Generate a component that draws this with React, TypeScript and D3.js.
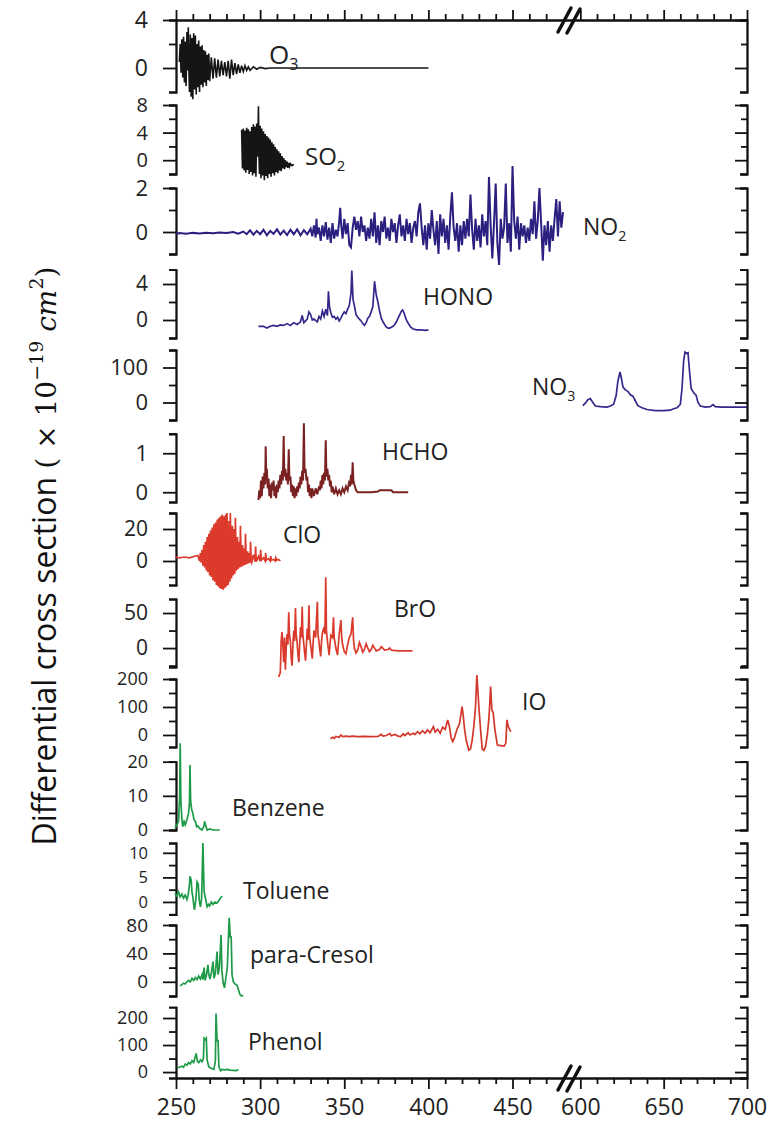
import React, { useEffect, useRef } from "react";
import * as d3 from "d3";

type Pt = [number, number];

// ---- data: [wavelength nm, differential cross section] ----
const labelMain = ["O", "SO", "NO", "HONO", "NO", "HCHO", "ClO", "BrO", "IO", "Benzene", "Toluene", "para-Cresol", "Phenol"];
const labelSub = ["3", "2", "2", "", "3", "", "", "", "", "", "", "", ""];

const o3: Pt[] = [
  [252, 0.5], [252.5, 2.0], [253, -0.4], [253.5, 2.4], [254, -0.8], [254.5, 2.6], [255, -1.2], [255.5, 2.2], [256, -1.5],
  [256.5, 3.0], [257, -0.2], [257.3, 3.4], [257.6, 0.3], [258, -2.0], [258.5, 2.8], [259, -2.4], [259.5, 2.5], [260, -2.6],
  [260.5, 2.9], [261, -1.8], [261.5, 2.7], [262, -2.2], [262.5, 2.0], [263, -1.6], [263.5, 2.3], [264, -2.0], [264.5, 1.8],
  [265, -1.4], [265.5, 1.9], [266, -1.6], [266.5, 1.5], [267, -1.2], [267.5, 1.4], [268, -1.5], [268.5, 1.1], [269, -1.0],
  [269.5, 1.2], [270, -1.1], [271, 0.9], [272, -0.9], [273, 0.8], [274, -0.8], [275, 0.7], [276, -0.7], [277, 0.6],
  [278, -0.6], [279, 0.5], [280, -0.7], [281, 0.6], [282, -0.9], [283, 0.7], [284, -0.6], [285, 0.4], [286, -0.5],
  [287, 0.3], [288, -0.4], [289, 0.2], [290, -0.3], [291, 0.2], [292, -0.2], [293, 0.1], [294, -0.2], [296, 0.1],
  [298, -0.1], [300, 0.05], [303, -0.05], [306, 0], [400, 0]
];

const so2: Pt[] = [
  [289, 4.4], [289.5, -1.2], [290, 4.6], [290.5, -1.5], [291, 4.3], [291.5, -1.8], [292, 4.7], [292.5, -1.4], [293, 4.5],
  [293.5, -2.0], [294, 4.2], [294.5, -1.7], [295, 4.8], [295.5, -2.2], [296, 5.2], [296.5, -1.9], [297, 4.9], [297.5, -2.4],
  [298, 5.3], [298.5, 0.5], [299, 7.8], [299.3, 0.8], [299.6, -2.0], [300, 5.0], [300.5, -2.6], [301, 4.6], [301.5, -2.2],
  [302, 4.2], [302.5, -2.9], [303, 3.8], [303.5, -2.3], [304, 3.5], [304.5, -2.6], [305, 3.3], [305.5, -2.0], [306, 3.0],
  [306.5, -2.4], [307, 2.6], [307.5, -1.9], [308, 2.3], [308.5, -2.2], [309, 1.9], [309.5, -1.7], [310, 1.6], [310.5, -1.9],
  [311, 1.3], [311.5, -1.5], [312, 1.0], [312.5, -1.6], [313, 0.6], [313.5, -1.2], [314, 0.3], [314.5, -1.3], [315, 0.0],
  [315.5, -1.0], [316, -0.2], [316.5, -1.1], [317, -0.4], [317.5, -0.9], [318, -0.5], [319, -0.8], [320, -0.6]
];

const no2: Pt[] = [
  [250, -0.1], [252, -0.05], [256, -0.08], [260, -0.04], [264, -0.07], [268, -0.03], [272, -0.06], [276, -0.02], [280, -0.05],
  [284, 0.0], [287, -0.08], [290, 0.02], [292, -0.1], [294, 0.08], [296, -0.12], [298, 0.05], [300, -0.1], [302, 0.1],
  [304, -0.15], [306, 0.05], [308, -0.08], [310, 0.12], [312, -0.12], [314, 0.06], [316, -0.14], [318, 0.1], [320, -0.1],
  [322, 0.12], [324, -0.15], [326, 0.08], [328, -0.1], [330, 0.15], [331, -0.2], [332, 0.3], [333, -0.25], [333.5, 0.6],
  [334, -0.1], [335, 0.2], [336, -0.4], [337, 0.3], [338, -0.2], [339, 0.45], [340, -0.35], [341, 0.2], [342, -0.5],
  [343, 0.4], [344, -0.3], [345, 0.1], [346, -0.2], [347, 0.5], [347.6, 1.1], [348.2, 0.3], [349, -0.3], [350, 0.6],
  [351, -0.1], [352, 0.4], [353, -0.6], [354, -0.7], [355, 0.2], [356, 0.7], [357, 0.1], [358, 0.5], [359, -0.2],
  [360, 0.7], [361, 0.0], [362, 0.3], [363, -0.4], [364, 0.2], [365, -0.3], [366, 0.6], [367, -0.2], [368, 0.9],
  [369, -0.5], [370, 0.3], [371, -0.6], [372, 0.5], [373, 0.0], [374, 0.7], [375, -0.3], [376, 0.2], [377, -0.4],
  [378, 0.6], [379, 0.0], [380, 0.4], [381, -0.5], [382, 0.3], [383, 0.8], [384, -0.2], [385, 0.3], [386, -0.4],
  [387, 0.6], [388, -0.1], [389, 0.4], [390, -0.5], [391, 0.2], [392, 0.5], [393, -0.2], [394, 0.9], [395, 1.3],
  [396, 0.2], [397, -0.6], [398, 0.3], [399, -0.8], [400, 0.4], [401, -0.3], [402, 1.0], [403, 0.1], [404, -0.6],
  [405, 0.5], [406, -1.0], [407, 0.8], [408, -0.2], [409, 0.6], [410, -0.5], [411, 0.3], [412, -0.8], [413, 0.7],
  [414, 1.8], [415, 0.2], [416, -0.4], [417, 0.4], [418, -0.9], [419, 0.3], [420, -0.6], [421, 0.5], [422, -0.3],
  [423, 0.6], [424, -0.2], [425, 1.7], [426, 0.1], [427, -0.8], [428, 0.6], [429, -0.4], [430, 0.3], [431, -0.7],
  [432, 0.8], [433, -0.2], [434, 0.5], [435, -0.6], [436, 2.5], [437, 0.3], [438, -1.2], [439, 0.4], [440, 2.2],
  [441, -0.5], [442, -1.5], [443, 0.6], [444, -0.3], [445, 0.2], [446, 2.2], [447, -0.5], [448, 0.4], [449, -0.9],
  [450, 3.0], [451, 0.5], [452, -0.3], [453, 0.7], [454, -0.8], [455, 0.4], [456, -0.2], [457, 0.3], [458, -0.5],
  [459, 0.2], [460, -0.4], [461, 0.6], [462, -0.1], [463, 1.4], [464, -0.3], [465, 0.5], [466, 2.0], [467, 0.4],
  [468, -1.3], [469, 0.3], [470, -0.6], [471, 0.5], [472, -0.9], [473, 0.3], [474, -0.4], [475, 0.6], [476, 1.5],
  [477, -0.2], [478, 1.4], [479, 0.2], [480, 0.9]
];

const hono: Pt[] = [
  [299, -0.7], [302, -0.7], [304, -0.9], [306, -0.7], [308, -0.6], [310, -0.7], [312, -0.55], [314, -0.6], [316, -0.4],
  [318, -0.6], [320, -0.3], [322, -0.5], [324, -0.2], [325, 0.5], [326, -0.3], [328, 0.1], [329, 0.9], [330, 0.6],
  [331, 0.0], [332, 0.1], [334, -0.2], [335, 0.4], [336, 0.1], [337, 1.0], [338, 0.4], [339, 1.2], [340, 0.5],
  [340.6, 3.2], [341.2, 1.5], [342, 0.8], [343, 0.3], [344, 0.4], [345, 0.1], [346, 0.3], [347, -0.1], [348, 0.2],
  [349, 0.6], [350, 0.9], [351, 0.7], [352, 1.2], [353, 1.6], [354, 3.0], [354.5, 5.5], [355.2, 2.3], [356, 1.6],
  [357, 0.6], [358, 0.3], [359, 0.1], [360, -0.1], [361, -0.4], [362, -0.6], [363, -0.3], [364, 0.2], [365, 0.4],
  [366, 0.9], [367, 1.5], [368, 4.3], [369, 2.8], [370, 2.0], [371, 1.0], [372, 0.2], [373, -0.2], [374, -0.5],
  [375, -0.8], [376, -0.9], [377, -0.9], [378, -0.8], [379, -0.7], [380, -0.5], [381, -0.2], [382, 0.2], [383, 0.6],
  [384, 1.0], [384.7, 1.1], [385.5, 0.8], [386.5, 0.2], [387.5, -0.2], [388.5, -0.5], [389.5, -0.8], [391, -1.0],
  [393, -1.1], [396, -1.1], [398, -1.15], [400, -1.1]
];

const no3: Pt[] = [
  [601.5, -9], [603, -2], [604.5, 8], [606, 11], [607.5, 0], [609, -10], [612, -12], [616, -13], [618, -10], [620, -5],
  [621.5, 20], [622.5, 60], [623.8, 87], [624.6, 70], [625.6, 44], [627, 36], [628.5, 32], [630, 22], [631.5, 18],
  [633, 5], [634.5, -9], [637, -15], [640, -20], [645, -23], [650, -23], [654, -22], [656, -18], [658, -15], [660, -5],
  [661, 40], [662, 120], [662.8, 144], [663.8, 140], [664.6, 142], [665.5, 90], [666.5, 40], [668, 28], [669.5, 20],
  [670.6, 0], [672, -10], [675, -13], [678, -12], [679.6, -6], [681, -12], [685, -13], [690, -13], [695, -13], [700, -13]
];

const hcho: Pt[] = [
  [299, -0.2], [299.5, 0.05], [300, -0.15], [300.5, 0.3], [301, -0.1], [301.5, 0.4], [302, 0.1], [302.5, 0.5], [303, 0.2],
  [303.3, 1.18], [303.7, 0.3], [304, 0.6], [304.5, 0.1], [305, 0.35], [305.5, -0.1], [306, 0.2], [306.5, -0.15],
  [307, 0.25], [307.5, 0.05], [308, 0.3], [308.5, -0.1], [309, 0.15], [309.5, -0.15], [310, 0.2], [310.5, 0.0],
  [311, 0.3], [311.5, 0.1], [312, 0.45], [312.5, 0.2], [313, 0.55], [313.5, 0.3], [314, 1.44], [314.4, 0.4], [315, 0.6],
  [315.5, 0.3], [316, 0.5], [316.5, 0.2], [317, 1.1], [317.4, 0.3], [318, 0.4], [318.5, 0.0], [319, 0.2], [319.5, -0.1],
  [320, 0.15], [320.5, -0.15], [321, 0.1], [321.5, -0.1], [322, 0.15], [322.5, 0.0], [323, 0.25], [323.5, 0.1],
  [324, 0.4], [324.5, 0.2], [325, 0.55], [325.5, 0.3], [326, 1.77], [326.4, 0.5], [327, 0.6], [327.5, 0.3], [328, 0.4],
  [328.5, 0.0], [329, 0.2], [329.5, -0.1], [330, 0.1], [330.5, -0.15], [331, 0.1], [332, -0.1], [333, 0.1], [334, -0.05],
  [335, 0.15], [335.5, 0.05], [336, 0.3], [336.5, 0.1], [337, 0.45], [337.5, 0.2], [338, 0.5], [338.5, 0.3], [339, 1.33],
  [339.4, 0.4], [340, 0.6], [340.5, 0.3], [341, 0.45], [341.5, 0.15], [342, 0.3], [342.5, 0.0], [343, 0.15], [344, -0.05],
  [345, 0.1], [346, -0.05], [347, 0.05], [348, -0.05], [349, 0.1], [350, 0.0], [351, 0.15], [352, 0.05], [353, 0.3],
  [353.5, 0.15], [354, 0.45], [354.5, 0.2], [355, 0.77], [355.4, 0.3], [356, 0.2], [357, 0.05], [358, 0.0], [362, 0.0],
  [366, 0.0], [370, 0.02], [371, 0.05], [378, 0.05], [379, 0.0], [388, 0.0]
];

const clo: Pt[] = [
  [249.5, 2.5], [252, 2.0], [255, 2.5], [258, 2.0], [261, 3.0], [263, 3.5],
  [264, 0], [264.5, 5], [265, -1], [265.5, 7], [266, -3], [266.5, 10], [267, -4], [267.5, 12], [268, -6], [268.5, 15],
  [269, -7], [269.5, 17], [270, -9], [270.5, 19], [271, -10], [271.5, 21], [272, -12], [272.5, 23], [273, -13],
  [273.5, 24], [274, -15], [274.5, 26], [275, -16], [275.5, 27], [276, -17], [276.5, 28], [277, -17.5], [277.5, 29],
  [278, -18], [278.5, 28], [279, -17], [279.5, 29], [280, -16], [280.3, 30], [280.7, 5], [281, -15], [281.5, 25],
  [282, -13], [282.3, 30], [282.7, 3], [283, -11], [283.5, 22], [284, -9], [284.5, 20], [285, -8], [285.3, 27],
  [285.7, 2], [286, -6], [286.5, 15], [287, -5], [287.5, 12], [288, -4], [288.3, 22], [288.7, 0], [289, -3.5],
  [289.5, 10], [290, -3], [290.5, 8], [291, -2.5], [291.3, 17], [291.7, 0], [292, -2], [292.5, 6], [293, -1.5],
  [293.5, 5], [294, -1], [294.3, 12], [294.7, 0], [295, -1], [296, 4], [297, -0.5], [297.3, 9], [297.7, 0], [298, 0],
  [299, 3], [300, 0], [300.3, 7], [300.7, 0.5], [302, 2], [303, 0], [303.3, 5], [303.7, 0.5], [305, 1.5], [306, 0],
  [306.3, 3], [306.7, 0.5], [308, 1], [309, 0], [309.3, 2], [310, 0.5], [311, 1], [312, 0]
];

const bro: Pt[] = [
  [311, -41], [312, -35], [312.5, 10], [313, 23], [313.5, 5], [314, -20], [314.5, 15], [315, -31], [315.5, 0], [316, 20],
  [316.5, 5], [317, 51], [317.4, 20], [318, 10], [318.5, -15], [319, -25], [319.5, 5], [320, 25], [320.5, 10], [321, 57],
  [321.4, 20], [322, 8], [322.5, -10], [323, -20], [323.5, 5], [324, 30], [324.5, 15], [325, 59], [325.4, 18], [326, 5],
  [326.5, -8], [327, -18], [327.5, 5], [328, 28], [328.5, 12], [329, 61], [329.4, 16], [330, 5], [330.5, -5], [331, -15],
  [331.5, 8], [332, 25], [333, 15], [334, 66], [334.4, 20], [335, 8], [335.5, -3], [336, -12], [336.5, 10], [337, 22],
  [338, 30], [338.5, 20], [339, 101], [339.4, 25], [340, 10], [340.5, 0], [341, -10], [341.5, 5], [342, 18], [343, 15],
  [343.6, 44], [344, 15], [345, 0], [346, -10], [346.5, 5], [347, 20], [348, 40], [348.5, 15], [349, 5], [350, -5],
  [351, -8], [352, 5], [353, 15], [354, 20], [355, 44], [355.5, 12], [356, 0], [357, -7], [358, -3], [359, 8], [360, 2],
  [361, -6], [362, -2], [363, 6], [364, 0], [365, -5], [366, -2], [367, 4], [368, 0], [369, -4], [371, -2], [372, 2],
  [374, -3], [376, -2], [377, 0], [378, -3], [382, -4], [386, -4], [390.6, -4]
];

const io: Pt[] = [
  [341.8, -14], [343, -8], [344, -12], [345, -5], [347, -8], [348, 0], [349, -6], [351, -4], [353, -6], [355, -4],
  [358, -6], [362, -5], [366, -6], [370, -5], [372, 2], [373, -4], [375, -2], [377, 5], [378, -3], [380, 2], [382, -4],
  [383.5, -6], [385, 4], [386, -2], [388, 8], [389, 0], [391, 6], [392, 2], [393.6, 12], [395, 4], [396.5, 15], [398, 6],
  [399.5, 18], [401, 8], [403, 30], [404, 10], [405.5, 20], [407, 6], [408.5, 28], [410, 20], [411.5, 54], [412.5, 30],
  [413.5, -10], [414.5, -24], [415.5, -10], [417, 20], [418.5, 40], [419.5, 80], [420, 101], [420.7, 70], [421.5, 20],
  [422.5, -20], [424, -54], [425, -50], [426, -20], [427, 30], [428, 100], [428.8, 214], [429.5, 150], [430, 100],
  [431, 20], [432, -50], [433, -55], [434, -40], [435, 0], [436, 60], [437, 173], [437.7, 90], [438.5, 80], [439.5, 20],
  [441, -36], [443, -38], [445, -40], [446, -30], [446.7, 54], [447.5, 30], [448.3, 20], [449, 12]
];

const benzene: Pt[] = [
  [249.4, 0.6], [250.5, 1.5], [251.5, 2.5], [252.2, 10], [252.5, 25.4], [252.9, 8.5], [253.5, 3], [254, 1], [254.8, 2.5],
  [255.5, 1.5], [256.5, 3], [257.5, 5], [258, 8], [258.3, 19], [258.7, 8.5], [259.3, 6], [260, 5], [260.7, 3],
  [261.5, 2.5], [262.3, 1], [263, 1.2], [264, 0.5], [265.5, 0], [266.5, 1], [267, 2.5], [267.5, 1.5], [268.5, 0],
  [270, 0.3], [272, 0], [274, 0], [276, 0]
];

const toluene: Pt[] = [
  [249.4, 1.8], [250.5, 1.2], [251.5, 2.0], [252.5, 1.0], [253.5, 1.6], [254.5, 0.8], [255.5, 1.4], [256.5, 0.5],
  [257.3, 1.5], [258, 3.5], [258.3, 5.2], [259, 4.5], [259.5, 2.0], [260, 1.1], [260.5, -0.5], [261, -1.6], [261.8, 0.5],
  [262.5, 4.1], [263.2, 3.7], [263.8, 0.5], [264.5, -1.0], [265.2, 0.5], [266, 12], [266.7, 2.1], [267.4, 1.0],
  [268.5, -1.0], [269.3, -0.5], [270, -0.8], [271, 0.0], [272, -0.5], [273, 0.0], [274.4, -0.2], [275.5, 0.3],
  [276.5, 0.8], [277.4, 1.2]
];

const pCresol: Pt[] = [
  [252.4, -5.6], [253.5, -4], [254.5, -2], [255.5, -3], [256.5, 0], [257.5, 2], [258.5, 0], [259.5, 5], [260.5, 2],
  [261.5, 6], [262.5, 3], [263.5, 8], [264.5, 4], [265.5, 10], [266, 3], [266.7, 20], [267.3, 2], [268, 8], [269, 24],
  [269.5, 10], [270.2, 4], [271, 12], [272, 28.5], [272.6, 5], [273.4, 12], [274.4, 42.5], [275, 10], [275.8, 20],
  [276.8, 66], [277.3, 15], [278, -1], [278.8, -8.6], [279.6, 5], [280.5, 20], [281.6, 90], [282.3, 63], [282.8, 63],
  [283.3, 10], [284, 0.6], [285, -3], [286.3, -5], [287.2, -12], [288, -18], [289, -20], [290, -19]
];

const phenol: Pt[] = [
  [250.6, 15], [252, 18], [253.5, 22], [254.5, 18], [255.5, 30], [256.5, 25], [257.5, 35], [258.5, 30], [259.5, 42],
  [260.5, 35], [261.3, 55], [262, 69], [262.7, 40], [263.5, 35], [264.5, 45], [265.5, 38], [266.3, 50], [266.7, 125],
  [267.5, 120], [268, 125], [268.5, 44], [269.5, 20], [270.5, 15], [271.5, 12], [272.5, 10], [273.4, 40], [273.8, 217],
  [274.4, 116], [275, 116], [275.5, 20], [276.5, 5], [277.4, 10], [279, 8], [280.5, 10], [282, 7], [284, 6], [286, 5],
  [287, 10]
];

const seriesData = [o3, so2, no2, hono, no3, hcho, clo, bro, io, benzene, toluene, pCresol, phenol];

// per-panel y axes
const yDomains = [[-2, 4], [-2, 8], [-1, 2], [-2, 5.6], [-50, 150], [-0.25, 1.5], [-15, 30], [-27, 70], [-43, 200], [0, 20], [-2.6, 12], [-20, 80], [-22, 240]];
const yMinorTicks = [[2], [-2, 2, 6], [-1, 1], [-2, 2], [-50, 50, 150], [0.5, 1.5], [-10, 10, 30], [-25, 25], [50, 150], [5, 15], [-2.5, 2.5, 7.5], [-20, 20, 60], [50, 150]];
const yMajorTicks = [[0, 4], [0, 4, 8], [0, 2], [0, 4], [0, 100], [0, 1], [0, 20], [0, 50], [0, 100, 200], [0, 10, 20], [0, 5, 10], [0, 40, 80], [0, 100, 200]];

// x axis (broken between 480 and 595 nm)
const xMajorTicks = [250, 300, 350, 400, 450, 600, 650, 700];
const xMinorTicks = [260, 270, 280, 290, 310, 320, 330, 340, 360, 370, 380, 390, 410, 420, 430, 440, 460, 470, 610, 620, 630, 640, 660, 670, 680, 690];

// ---- layout ----
const W = 769, H = 1124;
const xLeft = 176, xRight = 747, axisTop = 20, axisBottom = 1078;
const panelRanges = [[92, 20], [174, 105], [254, 188], [338, 269.6], [420, 350], [502, 433.75], [585, 513], [667, 599], [747, 679], [830, 761.7], [914.7, 843], [996, 925], [1078, 1007.2]];
const tickFont = [23, 20, 22, 21, 22, 22, 21, 21, 18, 18, 16.5, 19, 18];
const colors = ["#151515", "#151515", "#2b1f80", "#33298c", "#33298c", "#7a2222", "#dc3b2c", "#da3a2c", "#d2372b", "#1e9a48", "#1e9a48", "#1e9a48", "#1e9a48"];
const strokeW = [1.6, 1.6, 2.0, 1.7, 1.7, 2.0, 1.7, 1.7, 1.7, 1.7, 1.7, 1.7, 1.7];
const labelPos = [[269, 64, 26], [305, 165, 24], [583, 235, 23], [423, 305, 23], [532, 395, 23], [382, 460, 23], [283, 543, 23], [394, 617, 23], [522, 710, 23], [232, 816, 23], [243, 899, 23], [250, 963, 23], [248, 1050, 23]];
const FONT = "'Open Sans', 'Noto Sans', sans-serif";

export default function App() {
  const ref = useRef<SVGSVGElement>(null);

  useEffect(() => {
    const svg = d3.select(ref.current);
    svg.selectAll("*").remove();

    const x = d3.scaleLinear().domain([250, 480, 595, 700]).range([xLeft, 563, 572, xRight]);

    const styleAxis = (g: any, fs = 23) => {
      g.select(".domain").attr("fill", "none");
      g.selectAll("path, line").attr("stroke", "#111").attr("stroke-width", 1.8);
      g.attr("font-family", FONT).attr("font-size", fs);
      g.selectAll("text").attr("fill", "#222");
    };

    // top and bottom axes
    const top = svg.append("g").attr("transform", `translate(0,${axisTop})`);
    top.append("g").call(d3.axisTop(x).tickValues(xMinorTicks).tickSize(6).tickSizeOuter(0).tickFormat(() => "")).call(styleAxis);
    top.append("g").call(d3.axisTop(x).tickValues(xMajorTicks).tickSize(10).tickSizeOuter(0).tickFormat(() => "")).call(styleAxis);

    const bottom = svg.append("g").attr("transform", `translate(0,${axisBottom})`);
    bottom.append("g").call(d3.axisBottom(x).tickValues(xMinorTicks).tickSize(6).tickSizeOuter(0).tickFormat(() => "")).call(styleAxis);
    bottom.append("g").call(d3.axisBottom(x).tickValues(xMajorTicks).tickSize(11).tickSizeOuter(0).tickPadding(10).tickFormat(d3.format("d"))).call(styleAxis);

    // axis break marks
    [axisTop, axisBottom].forEach((yy) => {
      const b = svg.append("g").attr("stroke", "#111").attr("stroke-width", 3.5).attr("stroke-linecap", "round");
      b.append("line").attr("x1", 558).attr("y1", yy + 12).attr("x2", 571).attr("y2", yy - 12);
      b.append("line").attr("x1", 567).attr("y1", yy + 13).attr("x2", 580).attr("y2", yy - 11);
    });

    const line = d3.line<Pt>();

    seriesData.forEach((data, i) => {
      const y = d3.scaleLinear().domain(yDomains[i]).range(panelRanges[i]);

      // left bracket axis: unlabeled ticks, then labeled ticks
      const left = svg.append("g").attr("transform", `translate(${xLeft},0)`);
      left.append("g").call(d3.axisLeft(y).tickValues(yMinorTicks[i]).tickSize(7).tickSizeOuter(7).tickFormat(() => "")).call(styleAxis);
      left.append("g").call(d3.axisLeft(y).tickValues(yMajorTicks[i]).tickSize(13).tickSizeOuter(7).tickPadding(15).tickFormat(d3.format("~g"))).call(styleAxis, tickFont[i]);

      // right bracket axis, ticks pointing inward
      const right = svg.append("g").attr("transform", `translate(${xRight},0)`);
      right.append("g").call(d3.axisRight(y).tickValues(yMinorTicks[i]).tickSize(-6).tickSizeOuter(-7).tickFormat(() => "")).call(styleAxis);
      right.append("g").call(d3.axisRight(y).tickValues(yMajorTicks[i]).tickSize(-12).tickSizeOuter(-7).tickFormat(() => "")).call(styleAxis);

      // spectrum
      svg.append("path")
        .attr("d", line.x((d) => x(d[0])).y((d) => y(d[1]))(data))
        .attr("fill", "none")
        .attr("stroke", colors[i])
        .attr("stroke-width", strokeW[i])
        .attr("stroke-linejoin", "miter");

      // species label
      const [lx, ly, fs] = labelPos[i];
      const t = svg.append("text").attr("x", lx).attr("y", ly).attr("font-family", FONT).attr("font-size", fs).attr("fill", "#222");
      t.append("tspan").text(labelMain[i]);
      if (labelSub[i]) t.append("tspan").attr("dy", 6).attr("font-size", fs * 0.62).text(labelSub[i]);
    });

    // y title
    const serif = "'DejaVu Serif', serif";
    const title = svg.append("text")
      .attr("transform", "translate(56,556) rotate(-90)")
      .attr("text-anchor", "middle")
      .attr("font-size", 32)
      .attr("fill", "#111");
    title.append("tspan").attr("font-family", FONT).text("Differential cross section ");
    title.append("tspan").attr("font-family", serif).attr("font-size", 28).text("( \u00d7 10");
    title.append("tspan").attr("font-family", serif).attr("font-size", 19).attr("dy", -13).text("\u221219");
    title.append("tspan").attr("font-family", serif).attr("font-size", 28).attr("font-style", "italic").attr("dy", 13).text(" cm");
    title.append("tspan").attr("font-family", serif).attr("font-size", 19).attr("dy", -13).text("2");
    title.append("tspan").attr("font-family", serif).attr("font-size", 28).attr("dy", 13).text(")");
  }, []);

  return (
    <svg ref={ref} width={W} height={H} style={{ position: "absolute", left: 0, top: 0, background: "#fff" }} />
  );
}
